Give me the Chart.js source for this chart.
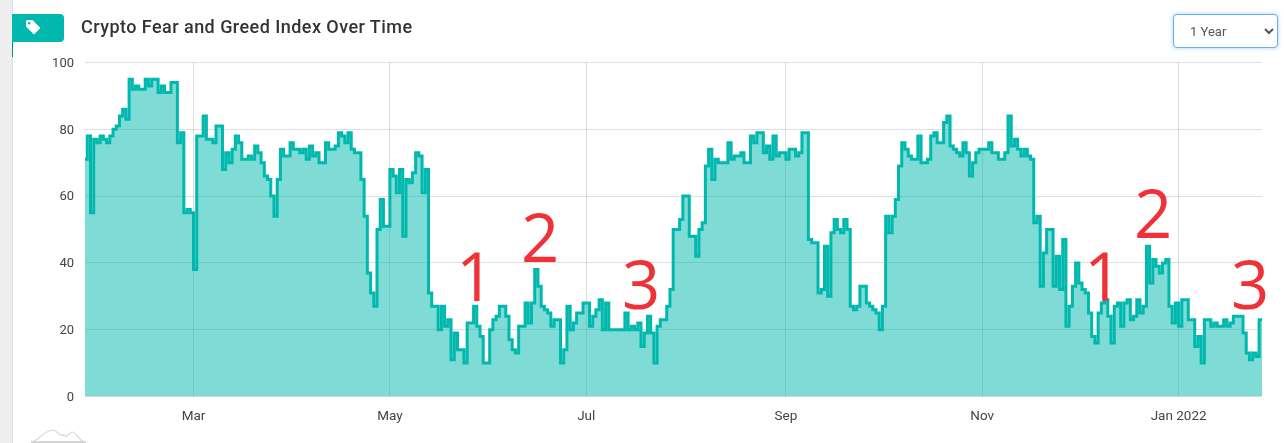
<!DOCTYPE html>
<html>
<head>
<meta charset="utf-8">
<title>Crypto Fear and Greed Index Over Time</title>
<script src="https://cdn.jsdelivr.net/npm/chart.js@4/dist/chart.umd.min.js"></script>
<style>
  html, body { margin: 0; padding: 0; background: #fff; overflow: hidden; }
  #pagina { position: relative; width: 1284px; height: 443px; overflow: hidden; font-family: Roboto, sans-serif; }
  #faixa { position: absolute; left: 0; top: 0; width: 12px; height: 443px; background: #eeeeee; border-right: 1px solid #dddddd; }
  #etiqueta { position: absolute; left: 12px; top: 14px; width: 52px; height: 28px; background: #00b8ad; border-radius: 0 4px 4px 0; }
  #etiqueta svg { position: absolute; left: 13px; top: 5px; }
  #etiqueta-sombra { position: absolute; left: 12px; top: 42px; width: 1px; height: 15px; background: #008f86; }
  #titulo { position: absolute; left: 81px; top: 16px; font-size: 18px; font-weight: 500; letter-spacing: 0.45px; color: #333; line-height: 22px; white-space: nowrap; }
  #periodo { position: absolute; left: 1173px; top: 14px; width: 105px; height: 34px; box-sizing: border-box; padding: 0 0 0 12px; font-family: Roboto, sans-serif; font-size: 13px; color: #555; background: #fff; border: 1px solid #66afe9; border-radius: 4px; box-shadow: 0 0 4px rgba(102,175,233,.6); outline: none; }
  #grafico { position: absolute; left: 0; top: 0; }
  .marca { position: absolute; color: #ee3237; font-family: "Open Sans", "Noto Sans", sans-serif; font-size: 67px; line-height: 80px; }
  #logo { position: absolute; left: 31px; top: 429px; }
</style>
</head>
<body>
<div id="pagina">
  <div id="faixa"></div>
  <canvas id="grafico" width="1284" height="443"></canvas>
  <div id="etiqueta">
    <svg width="16" height="16" viewBox="0 0 16 16"><path fill="#fff" d="M1 2.5 Q1 1 2.5 1 H7.5 L15 8.5 Q15.5 9 15 9.5 L9.5 15 Q9 15.5 8.5 15 L1 7.5 Z"/><circle cx="4.2" cy="4.2" r="1.2" fill="#00b8ad"/></svg>
  </div>
  <div id="etiqueta-sombra"></div>
  <div id="titulo">Crypto Fear and Greed Index Over Time</div>
  <select id="periodo"><option>1 Year</option></select>
  <div class="marca" style="left:456px;top:235px">1</div>
  <div class="marca" style="left:521px;top:196px">2</div>
  <div class="marca" style="left:622px;top:243px">3</div>
  <div class="marca" style="left:1084px;top:235px">1</div>
  <div class="marca" style="left:1134px;top:172px">2</div>
  <div class="marca" style="left:1231px;top:243px">3</div>
  <svg id="logo" width="56" height="14" viewBox="0 0 56 14"><path fill="none" stroke="#d4d4d4" stroke-width="1.2" d="M1 13 C8 11 14 1 22 1 C26 1 28 7 31 6 C33 5 34 8 36 7 C38 5 39 3 41 3 C45 3 48 11 53 13"/><rect x="0" y="12" width="55" height="2" fill="#d4d4d4"/></svg>
</div>
<script>
// valor diario do indice (26/jan/2021 a 26/jan/2022)
const valoresJanFev = [71,78,55,77,76,78,77,76,78,80,81,84,86,83,95,92,93,92,92,95,93,95,95,91,93,91,91,94,94,76,79,55,56,55];
const valoresMarAbr = [38,78,78,84,77,77,76,81,81,68,73,70,74,78,76,71,71,72,71,75,73,70,66,65,60,54,65,74,72,72,76,74,74,73,74,71,75,72,73,70,70,76,74,74,75,79,78,76,79,74,73,73,65,54,37,31,27,50,59,51,51];
const valoresMaiJun = [68,66,61,68,48,65,64,67,73,72,61,68,31,27,27,20,27,21,23,11,19,14,14,10,22,22,27,21,18,10,10,20,23,24,27,27,24,17,14,13,21,21,28,22,28,38,33,27,26,25,21,23,23,10,14,27,20,22,25,25,28];
const valoresJulAgo = [28,21,24,26,29,20,28,20,20,20,20,20,25,20,21,20,22,15,19,24,19,10,21,23,23,27,32,50,50,53,60,60,48,48,42,50,52,69,74,65,71,70,70,70,76,71,72,72,73,70,70,78,76,79,79,73,75,71,78,72,73,73];
const valoresSetOut = [71,74,74,72,73,79,79,47,46,46,31,32,45,30,49,53,50,49,53,50,27,26,27,33,33,28,27,26,25,20,27,54,49,54,59,69,76,74,72,71,71,78,70,70,71,78,79,76,76,82,84,75,74,73,72,76,73,66,70,73,74];
const valoresNovDez = [74,74,76,73,73,71,71,73,84,75,77,74,72,74,72,71,52,54,33,43,50,50,33,42,32,47,21,27,33,40,34,32,31,25,18,16,25,28,29,24,16,27,28,21,28,29,23,24,29,25,27,45,34,41,39,37,40,41,27,22,28];
const valoresJan22 = [21,29,29,23,23,15,18,10,23,23,21,22,21,21,23,21,22,24,24,24,19,13,11,13,12,23,23];

const diasTick = [34,95,156,218,279,340];
const rotulosTick = ["Mar","May","Jul","Sep","Nov","Jan 2022"];
const ticksY = [0,20,40,60,80,100];

const COR_LINHA = "#00b8ad";
const COR_FUNDO = "rgba(0,184,173,0.5)";
const COR_GRADE = "rgba(0,0,0,0.13)";
const COR_TEXTO = "#444";

const valores = [].concat(valoresJanFev, valoresMarAbr, valoresMaiJun, valoresJulAgo, valoresSetOut, valoresNovDez, valoresJan22);
const pontos = valores.map((v, i) => ({ x: i, y: v }));

new Chart(document.getElementById("grafico").getContext("2d"), {
  type: "line",
  data: {
    datasets: [{
      label: "Fear and Greed",
      data: pontos,
      borderColor: COR_LINHA,
      backgroundColor: COR_FUNDO,
      borderWidth: 3,
      pointRadius: 0,
      fill: "origin",
      stepped: "before",
    }]
  },
  options: {
    responsive: false,
    animation: false,
    devicePixelRatio: 1,
    layout: { padding: { top: 62.5, right: 22, left: 0, bottom: 0 } },
    plugins: { legend: { display: false }, tooltip: { enabled: false } },
    scales: {
      x: {
        type: "linear",
        min: 0.3,
        max: 365.9,
        afterBuildTicks: eixo => { eixo.ticks = diasTick.map(d => ({ value: d })); },
        afterFit: eixo => { eixo.height = 46.5; },
        ticks: {
          color: COR_TEXTO,
          font: { family: "Roboto", size: 13.5 },
          padding: 12,
          maxRotation: 0,
          autoSkip: false,
          callback: v => rotulosTick[diasTick.indexOf(v)],
        },
        grid: { color: COR_GRADE, drawTicks: false },
        border: { display: false },
      },
      y: {
        min: 0,
        max: 100,
        afterBuildTicks: eixo => { eixo.ticks = ticksY.map(v => ({ value: v })); },
        afterFit: eixo => { eixo.width = 85; },
        ticks: {
          color: COR_TEXTO,
          font: { family: "Roboto", size: 13 },
          padding: 11,
          labelOffset: 1,
        },
        grid: { color: COR_GRADE, drawTicks: false },
        border: { display: false },
      }
    }
  }
});
</script>
</body>
</html>
